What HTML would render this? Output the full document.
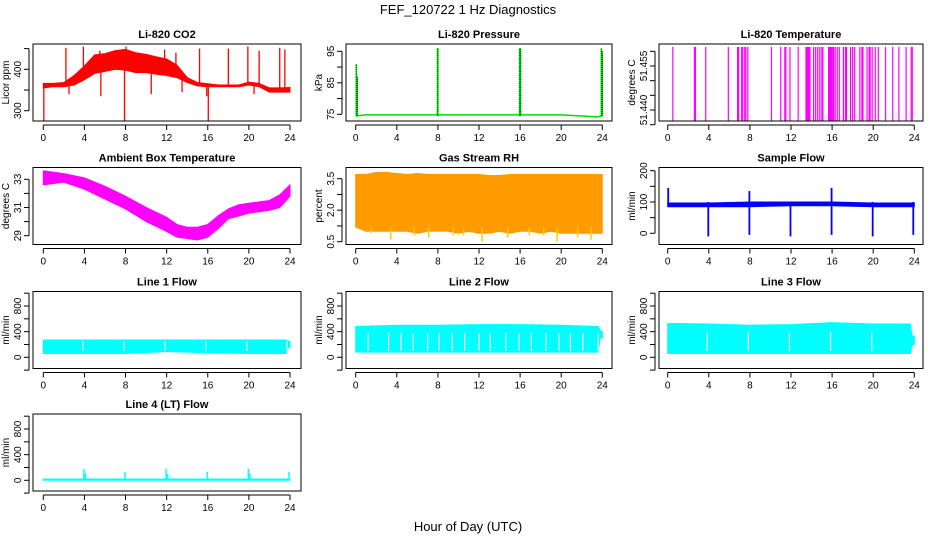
<!DOCTYPE html>
<html><head><meta charset="utf-8"><style>
body{margin:0;background:#fff}
svg{display:block;font-family:"Liberation Sans",sans-serif}
</style></head><body>
<svg id="c" width="936" height="540" viewBox="0 0 936 540">
<text x="468" y="14" text-anchor="middle" font-size="13">FEF_120722  1 Hz Diagnostics</text>
<text x="468" y="531" text-anchor="middle" font-size="13">Hour of Day (UTC)</text>
</svg>
<script>
// ---- data (hours, values) ----
const hourTicks=[0,4,8,12,16,20,24];
// CO2
const co2Hours=[0,1,2,3,4,5,6,7,8,9,10,11,12,13,14,15,16,17,18,19,20,21,22,23,24];
const co2Low=[355,358,358,362,375,390,395,400,398,392,392,388,385,380,368,360,358,358,358,358,362,358,345,345,345];
const co2High=[366,366,368,385,408,435,438,445,448,440,436,430,425,410,380,368,365,362,362,362,369,366,355,355,356];
const co2SpikeHours=[0.05,2.2,3.9,5.5,7.9,8.05,9.5,11.8,12.9,15.2,15.9,16.05,18,19.9,21,23,23.5,2.5,5.6,10.5,13.5,20.5];
const co2SpikeValues=[273,452,455,445,276,455,430,448,440,450,335,270,450,455,445,452,448,340,335,340,345,340];
// Pressure
const presHours=[0,1,4,8,12,16,20,23.5,24];
const presValues=[74.5,74.8,74.8,74.8,74.8,74.8,74.8,74.2,74.5];
const presSpikeHours=[0.05,0.15,7.95,8.0,15.95,16.05,23.9,24];
const presSpikeValues=[91,87,96,96,96,96,96,95];
// Li-820 temperature
const tempBase=51.4347;
const tempTop=51.4615;
const tempSpikeHours=[0.5,2.6,2.7,3.7,5.9,6.8,6.9,7.2,7.3,7.5,7.6,7.8,10.1,11,11.4,11.5,11.9,12.7,14.2,14.4,14.6,14.8,15,15.1,16.3,16.5,16.7,17.1,17.3,17.4,17.8,18.0,18.2,18.7,18.9,19.0,19.4,19.6,19.7,19.9,20.2,20.5,21.2,21.9,22.5,23.2,23.7,23.8];
const tempBlockStart=[13.4,15.6,16.0];
const tempBlockEnd=[13.9,16.0,16.2];
// Ambient box temp
const ambHours=[0,2,4,6,8,10,12,13,14,15,16,17,18,19,20,21,22,23,24];
const ambLow=[32.6,32.8,32.3,31.6,30.9,30.0,29.3,28.9,28.8,28.7,28.9,29.5,30.2,30.4,30.6,30.7,30.8,31.0,31.8];
const ambHigh=[33.6,33.4,33.1,32.5,31.8,31.0,30.3,29.8,29.6,29.6,29.8,30.4,30.9,31.2,31.3,31.4,31.5,31.9,32.6];
// RH
const rhHours=[0,1,2,3,4,5,6,7,8,9,10,11,12,13,14,15,16,17,18,19,20,21,22,23,24];
const rhHigh=[3.7,3.7,3.8,3.8,3.75,3.7,3.75,3.7,3.7,3.7,3.7,3.7,3.7,3.65,3.65,3.7,3.7,3.7,3.7,3.7,3.7,3.7,3.7,3.7,3.7];
const rhLow=[1.2,1.0,1.0,1.0,1.0,1.0,0.9,1.0,1.0,1.0,0.9,1.0,0.9,0.9,1.0,0.9,1.0,1.0,0.9,1.0,0.9,0.9,0.9,0.9,0.9];
const rhDipHours=[1.5,3.4,5.7,7.1,9.5,10.5,12.3,14.8,16.9,18.3,19.6,21.6,22.9];
const rhDipValues=[0.9,0.6,0.8,0.7,0.8,0.8,0.5,0.7,0.8,0.8,0.5,0.7,0.6];
// Sample flow
const sfHours=[0,4,8,12,16,20,24];
const sfLow=[85,85,85,88,88,85,85];
const sfHigh=[97,97,100,100,100,97,97];
const sfSpikeHours=[0.05,3.95,7.95,11.95,15.95,19.95,23.9];
const sfSpikeHigh=[145,100,135,100,145,100,100];
const sfSpikeLow=[90,-10,-5,-10,-5,-10,-5];
// Line flows
const l1Hours=[0,4,8,12,16,20,23.6,23.8,24];
const l1Low=[60,60,60,90,70,60,60,150,150];
const l1High=[270,270,270,270,270,270,270,250,250];
const l1Gaps=[3.85,7.85,11.85,15.8,19.8,23.7];
const l2Low=[80,80,80,80,80,80,80,300,300];
const l2High=[480,500,500,510,510,500,480,420,400];
const l2Gaps=[1.2,3.2,4.4,5.6,7.0,8.1,9.4,10.6,12.0,13.1,14.6,15.9,17.1,18.5,19.8,20.9,22.1,23.6];
const l3Low=[60,60,60,60,60,60,60,200,200];
const l3High=[530,520,500,510,540,520,520,330,330];
const l3Gaps=[3.85,7.85,11.85,15.85,19.85];
const l4Hours=[0,24];
const l4Low=[0,0];
const l4High=[20,20];
const l4SpikeHours=[3.95,4.1,7.95,11.95,12.1,15.95,19.95,20.1,23.9];
const l4SpikeValues=[180,110,130,180,100,130,180,110,130];

// ---- layout ----
const svg=document.getElementById('c');
const NS='http://www.w3.org/2000/svg';
function mk(t,a,p){const e=document.createElementNS(NS,t);for(const k in a)e.setAttribute(k,a[k]);(p||svg).appendChild(e);return e;}
const cols=[{l:33,r:301,x0:43.3,x24:290},{l:346,r:612,x0:355.7,x24:602.3},{l:659,r:923,x0:667.7,x24:914.3}];
const rows=[44,167.5,291.5,414];
function panel(ci,ri,title,ylab,v1,p1,v2,p2,ticks,labels,name){
  const c=cols[ci],top=rows[ri],bot=top+77;
  const g=mk('g',{});
  
  
  const X=h=>c.x0+(c.x24-c.x0)*h/24;
  const Y=v=>p1+(p2-p1)*(v-v1)/(v2-v1);
  const t=mk('text',{x:(c.l+c.r)/2,y:top-6,'text-anchor':'middle','font-size':11,'font-weight':'bold'},g);t.textContent=title;
  
  
  const yl=mk('text',{x:0,y:0,'text-anchor':'middle','font-size':10,transform:`translate(${c.l-24},${(top+bot)/2}) rotate(-90)`},g);yl.textContent=ylab;
  
  
  const plot=mk('g',{},g);
  const cp=mk('clipPath',{id:'cp'+name},g);mk('rect',{x:c.l,y:top,width:c.r-c.l,height:77},cp);
  plot.setAttribute('clip-path',`url(#cp${name})`);
  mk('rect',{x:c.l,y:top,width:c.r-c.l,height:77,fill:'none',stroke:'#000','stroke-width':1},g);
  mk('line',{x1:X(0),x2:X(24),y1:bot+4,y2:bot+4,stroke:'#000'},g);
  hourTicks.forEach(h=>{mk('line',{x1:X(h),x2:X(h),y1:bot+4,y2:bot+9,stroke:'#000'},g);
    const tl=mk('text',{x:X(h),y:bot+20,'text-anchor':'middle','font-size':10},g);tl.textContent=h;
    
    });
  const ys=ticks.map(Y);
  mk('line',{x1:c.l-4,x2:c.l-4,y1:Math.min(...ys),y2:Math.max(...ys),stroke:'#000'},g);
  ticks.forEach((v,i)=>{mk('line',{x1:c.l-9,x2:c.l-4,y1:Y(v),y2:Y(v),stroke:'#000'},g);
    if(labels[i]!==''){const tl=mk('text',{x:0,y:0,'text-anchor':'middle','font-size':10,transform:`translate(${c.l-12},${Y(v)}) rotate(-90)`},g);tl.textContent=labels[i];
    
    }});
  return {X,Y,plot,top,bot};
}
function band(P,hs,lo,hi,fill,name){
  let d='M'+hs.map((h,i)=>P.X(h)+','+P.Y(hi[i])).join('L')+'L'+hs.map((h,i)=>P.X(h)+','+P.Y(lo[i])).reverse().join('L')+'Z';
  const e=mk('path',{d,fill,stroke:fill,'stroke-width':1},P.plot);
  
  
}
function vline(P,h,a,b,col,w,name,dash){
  const e=mk('line',{x1:P.X(h),x2:P.X(h),y1:P.Y(a),y2:P.Y(b),stroke:col,'stroke-width':w||1.3},P.plot);
  if(dash)e.setAttribute('stroke-dasharray',dash);
  
  
}
function interp(hs,vs,h){for(let i=1;i<hs.length;i++)if(h<=hs[i]){const f=(h-hs[i-1])/(hs[i]-hs[i-1]);return vs[i-1]+f*(vs[i]-vs[i-1]);}return vs[vs.length-1];}

// CO2
let P=panel(0,0,'Li-820 CO2','Licor ppm',400,69.3,300,110.7,[300,350,400,450],['300','','400',''],'co2-panel');
band(P,co2Hours,co2Low,co2High,'#ff0000','co2-band');
co2SpikeHours.forEach((h,i)=>vline(P,h,interp(co2Hours,co2Low,h)+5,co2SpikeValues[i],'#ff0000',1.3,'co2-spike'));
// Pressure
P=panel(1,0,'Li-820 Pressure','kPa',95,51.3,75,114.3,[75,80,85,90,95],['75','','85','','95'],'pressure-panel');
const pl=mk('polyline',{points:presHours.map((h,i)=>P.X(h)+','+P.Y(presValues[i])).join(' '),fill:'none',stroke:'#00dd00','stroke-width':1.5},P.plot);


presSpikeHours.forEach((h,i)=>{vline(P,h,74.5,presSpikeValues[i],'#00ee00',1.5,'pressure-spike');vline(P,h,74.5,presSpikeValues[i],'#000',0.6,'pressure-spike-dots','1,1');});
// Li-820 temp
P=panel(2,0,'Li-820 Temperature','degrees C',51.44,110,51.455,66,[51.435,51.440,51.445,51.450,51.455,51.460],['','51.440','','','51.455',''],'licor-temp-panel');
const tl=mk('line',{x1:P.X(0),x2:P.X(24),y1:P.Y(tempBase),y2:P.Y(tempBase),stroke:'#ff00ff','stroke-width':1.3},P.plot);


tempSpikeHours.forEach(h=>vline(P,h,tempBase,tempTop,'#ff00ff',1.2,'temp-spike'));
tempBlockStart.forEach((s,i)=>{const e=mk('rect',{x:P.X(s),y:P.Y(tempTop),width:P.X(tempBlockEnd[i])-P.X(s),height:P.Y(tempBase)-P.Y(tempTop),fill:'#ff00ff'},P.plot);
 
 });
// Ambient
P=panel(0,1,'Ambient Box Temperature','degrees C',33,179.3,29,235.7,[29,30,31,32,33],['29','','31','','33'],'ambient-temp-panel');
band(P,ambHours,ambLow,ambHigh,'#ff00ff','ambient-band');
// RH
P=panel(1,1,'Gas Stream RH','percent',3.5,178.7,0.5,241.7,[0.5,1.25,2.0,2.75,3.5],['0.5','','2.0','','3.5'],'rh-panel');
band(P,rhHours,rhLow,rhHigh,'#ff9a00','rh-band');
rhDipHours.forEach((h,i)=>vline(P,h,1.2,rhDipValues[i],'#ffcc00',1.5,'rh-dip'));
// Sample flow
P=panel(2,1,'Sample Flow','ml/min',0,233.3,200,170.7,[0,50,100,150,200],['0','','100','','200'],'sample-flow-panel');
band(P,sfHours,sfLow,sfHigh,'#0000ff','sample-flow-band');
sfSpikeHours.forEach((h,i)=>vline(P,h,sfSpikeLow[i],sfSpikeHigh[i],'#0000ff',1.8,'sample-flow-spike'));
// Line flows
function gaps(P,gs,lo,hi){gs.forEach(h=>vline(P,h,lo,hi,'#fff',1.2,'flow-gap'));}
P=panel(0,2,'Line 1 Flow','ml/min',0,357.3,800,306,[-200,0,200,400,600,800,1000],['','0','','400','','800',''],'line1-panel');
band(P,l1Hours,l1Low,l1High,'#00ffff','line1-band');gaps(P,l1Gaps,100,250);
P=panel(1,2,'Line 2 Flow','ml/min',0,357.3,800,306,[-200,0,200,400,600,800,1000],['','0','','400','','800',''],'line2-panel');
band(P,l1Hours,l2Low,l2High,'#00ffff','line2-band');gaps(P,l2Gaps,100,380);
P=panel(2,2,'Line 3 Flow','ml/min',0,357.3,800,306,[-200,0,200,400,600,800,1000],['','0','','400','','800',''],'line3-panel');
band(P,l1Hours,l3Low,l3High,'#00ffff','line3-band');gaps(P,l3Gaps,100,400);
P=panel(0,3,'Line 4 (LT) Flow','ml/min',0,480.3,800,429,[-200,0,200,400,600,800,1000],['','0','','400','','800',''],'line4-panel');
band(P,l4Hours,l4Low,l4High,'#00ffff','line4-band');
l4SpikeHours.forEach((h,i)=>vline(P,h,10,l4SpikeValues[i],'#00ffff',1.5,'line4-spike'));
</script>
</body></html>
